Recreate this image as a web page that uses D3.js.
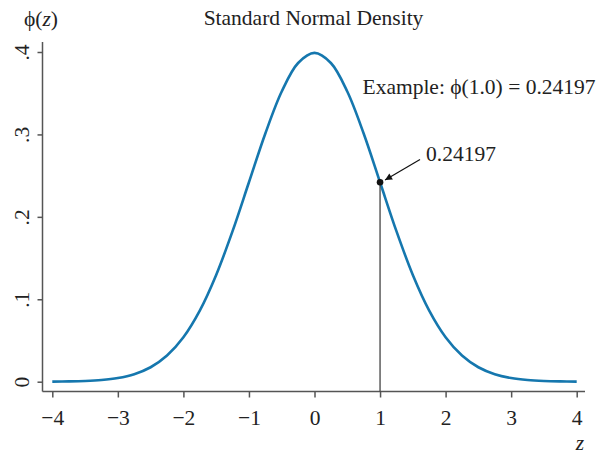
<!DOCTYPE html>
<html>
<head>
<meta charset="utf-8">
<script src="https://cdn.jsdelivr.net/npm/d3@7/dist/d3.min.js"></script>
<style>
  html, body { margin: 0; padding: 0; background: #fff; }
  svg { display: block; font-family: "Liberation Serif", "DejaVu Serif", serif; }
</style>
</head>
<body>
<svg id="chart" width="599" height="454"></svg>
<script>
// Standard normal density, sampled every 0.25
const zValues = [-4, -3.75, -3.5, -3.25, -3, -2.75, -2.5, -2.25, -2, -1.75, -1.5, -1.25, -1, -0.75, -0.5, -0.25,
                 0, 0.25, 0.5, 0.75, 1, 1.25, 1.5, 1.75, 2, 2.25, 2.5, 2.75, 3, 3.25, 3.5, 3.75, 4];
const densityValues = [0.00013, 0.00035, 0.00087, 0.00203, 0.00443, 0.00909, 0.01753, 0.03174, 0.05399, 0.08628,
                       0.12952, 0.18265, 0.24197, 0.30114, 0.35207, 0.38667, 0.39894, 0.38667, 0.35207, 0.30114,
                       0.24197, 0.18265, 0.12952, 0.08628, 0.05399, 0.03174, 0.01753, 0.00909, 0.00443, 0.00203,
                       0.00087, 0.00035, 0.00013];
const xTicks = [-4, -3, -2, -1, 0, 1, 2, 3, 4];
const yTicks = [0, 0.1, 0.2, 0.3, 0.4];
const yTickLabels = ["0", ".1", ".2", ".3", ".4"];
const exampleZ = [1.0];
const exampleDensity = [0.24197];

const svg = d3.select("#chart");
const textColor = "#222";
const axisColor = "#555";
const curveColor = "#1577ae";
const fontSize = 21.5;

const x = d3.scaleLinear().domain([-4, 4]).range([52.3, 576.7]);
const y = d3.scaleLinear().domain([0, 0.4]).range([381.7, 52]);

const axisX = 42.5, axisY = 391.5;

// y axis
const yAxis = svg.append("g").attr("transform", `translate(${axisX},0)`)
  .call(d3.axisLeft(y).tickValues(yTicks).tickSize(5).tickFormat(() => ""));
yAxis.select(".domain").attr("d", `M0,42V${axisY}`).attr("stroke", axisColor).attr("stroke-width", 1.5);
yAxis.selectAll(".tick line").attr("stroke", axisColor).attr("stroke-width", 1.5);
yAxis.selectAll(".tick").append("text")
  .attr("transform", "translate(-21,0) rotate(-90)")
  .attr("text-anchor", "middle")
  .attr("dy", "0.35em")
  .attr("fill", textColor)
  .attr("font-size", fontSize)
  .attr("font-family", "Liberation Serif, serif")
  .text((d, i) => yTickLabels[i]);

// x axis
const xAxis = svg.append("g").attr("transform", `translate(0,${axisY})`)
  .call(d3.axisBottom(x).tickValues(xTicks).tickSize(6).tickFormat(d => (d < 0 ? "\u2212" + Math.abs(d) : String(d))));
xAxis.select(".domain").attr("d", `M${axisX},0H585`).attr("stroke", axisColor).attr("stroke-width", 1.5);
xAxis.selectAll(".tick line").attr("stroke", axisColor).attr("stroke-width", 1.5);
xAxis.selectAll(".tick text")
  .attr("y", 25.5)
  .attr("dy", "0.35em")
  .attr("fill", textColor)
  .attr("font-size", fontSize)
  .attr("font-family", "Liberation Serif, serif");

// density curve
const pts = zValues.map((z, i) => [z, densityValues[i]]);
svg.append("path")
  .datum(pts)
  .attr("fill", "none")
  .attr("stroke", curveColor)
  .attr("stroke-width", 2.6)
  .attr("stroke-linejoin", "round")
  .attr("d", d3.line().x(d => x(d[0])).y(d => y(d[1])).curve(d3.curveCatmullRom.alpha(0.5)));

// marker at z = 1 with drop line to the axis
const px = x(exampleZ[0]), py = y(exampleDensity[0]);
svg.append("line")
  .attr("x1", px).attr("x2", px).attr("y1", py).attr("y2", axisY)
  .attr("stroke", "#444").attr("stroke-width", 1.3);
svg.append("circle").attr("cx", px).attr("cy", py).attr("r", 3.3).attr("fill", "#111");

// arrow pointing at the marker
const defs = svg.append("defs");
defs.append("marker")
  .attr("id", "arrowhead")
  .attr("viewBox", "0 0 10 10")
  .attr("refX", 10).attr("refY", 5)
  .attr("markerWidth", 10).attr("markerHeight", 7)
  .attr("markerUnits", "userSpaceOnUse")
  .attr("orient", "auto")
  .append("path").attr("d", "M0,0L10,5L0,10Z").attr("fill", "#111");
svg.append("line")
  .attr("x1", 420).attr("y1", 159.5)
  .attr("x2", px + 5).attr("y2", py - 2.3)
  .attr("stroke", "#111").attr("stroke-width", 1.2)
  .attr("marker-end", "url(#arrowhead)");

svg.append("text")
  .attr("x", 426).attr("y", 153).attr("dy", "0.35em")
  .attr("fill", textColor).attr("font-size", fontSize)
  .text(d3.format(".5f")(exampleDensity[0]));

svg.append("text")
  .attr("x", 362.5).attr("y", 86).attr("dy", "0.35em")
  .attr("fill", textColor).attr("font-size", fontSize)
  .text(`Example: \u03D5(${d3.format(".1f")(exampleZ[0])}) = ${d3.format(".5f")(exampleDensity[0])}`);

// title and axis titles
svg.append("text")
  .attr("x", 313.5).attr("y", 17).attr("dy", "0.35em")
  .attr("text-anchor", "middle")
  .attr("fill", textColor).attr("font-size", fontSize)
  .text("Standard Normal Density");

const yTitle = svg.append("text")
  .attr("x", 24).attr("y", 18).attr("dy", "0.35em")
  .attr("fill", textColor).attr("font-size", fontSize);
yTitle.append("tspan").text("\u03D5(");
yTitle.append("tspan").attr("font-style", "italic").text("z");
yTitle.append("tspan").text(")");

svg.append("text")
  .attr("x", 580).attr("y", 442).attr("dy", "0.35em")
  .attr("text-anchor", "middle")
  .attr("fill", textColor).attr("font-size", fontSize)
  .attr("font-style", "italic")
  .text("z");
</script>
</body>
</html>
